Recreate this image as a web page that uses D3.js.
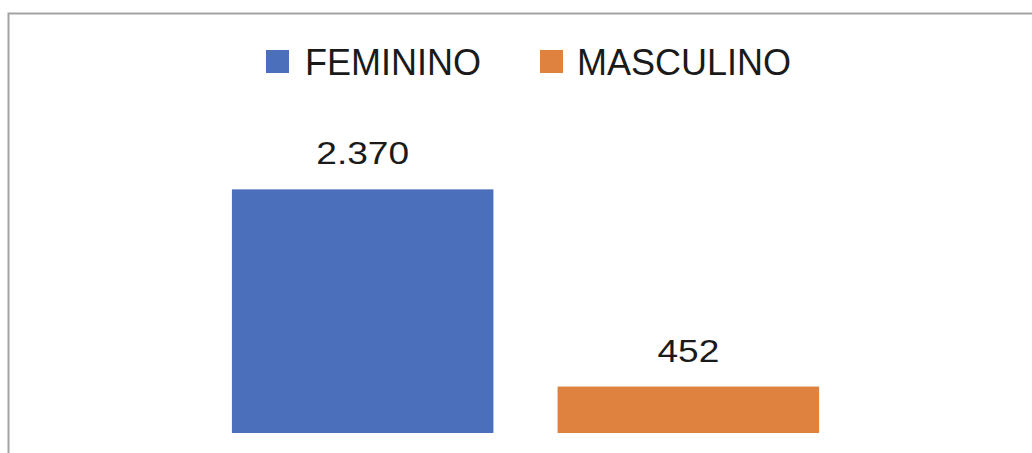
<!DOCTYPE html>
<html>
<head>
<meta charset="utf-8">
<script src="https://cdn.jsdelivr.net/npm/d3@7"></script>
<style>
  body { margin: 0; background: #fff; }
  svg { display: block; }
</style>
</head>
<body>
<div id="chart"></div>
<script>
// Chart data
const categories = ["FEMININO", "MASCULINO"];
const values = [2370, 452];
const valueLabels = ["2.370", "452"];
const colors = ["#4C6FBB", "#DF8240"];

const width = 1032, height = 453;

const svg = d3.select("#chart")
    .append("svg")
    .attr("width", width)
    .attr("height", height);

// Chart frame (left + top edges visible, rest is cropped)
svg.append("path")
    .attr("d", `M8.5,${height} V13.5 H${width}`)
    .attr("fill", "none")
    .attr("stroke", "#a3a3a3")
    .attr("stroke-width", 2);

// Scales
const x = d3.scaleBand()
    .domain(categories)
    .range([200, 851])
    .paddingInner(0.197)
    .paddingOuter(0.098);

const y = d3.scaleLinear()
    .domain([0, 2500])
    .range([433, 176]);

const color = d3.scaleOrdinal().domain(categories).range(colors);

// Bars
svg.selectAll("rect.bar")
    .data(categories)
    .enter()
    .append("rect")
    .attr("class", "bar")
    .attr("x", d => x(d))
    .attr("y", (d, i) => y(values[i]))
    .attr("width", x.bandwidth())
    .attr("height", (d, i) => y(0) - y(values[i]))
    .attr("fill", d => color(d));

// Value labels
svg.selectAll("text.value")
    .data(categories)
    .enter()
    .append("text")
    .attr("class", "value")
    .attr("transform", (d, i) => `translate(${x(d) + x.bandwidth() / 2},${y(values[i]) - 25}) scale(1.16,1)`)
    .attr("text-anchor", "middle")
    .style("font-family", "'Liberation Sans', Arial, sans-serif")
    .style("font-size", "32px")
    .style("fill", "#1a1a1a")
    .text((d, i) => valueLabels[i]);

// Legend
const legendX = [266, 540];
const legend = svg.selectAll("g.legend")
    .data(categories)
    .enter()
    .append("g")
    .attr("class", "legend")
    .attr("transform", (d, i) => `translate(${legendX[i]},50)`);

legend.append("rect")
    .attr("width", 23)
    .attr("height", 23)
    .attr("fill", d => color(d));

legend.append("text")
    .attr("x", (d, i) => i === 0 ? 39 : 37)
    .attr("y", 25)
    .style("font-family", "'Liberation Sans', Arial, sans-serif")
    .style("font-size", "36px")
    .style("fill", "#1a1a1a")
    .text(d => d);
</script>
</body>
</html>
